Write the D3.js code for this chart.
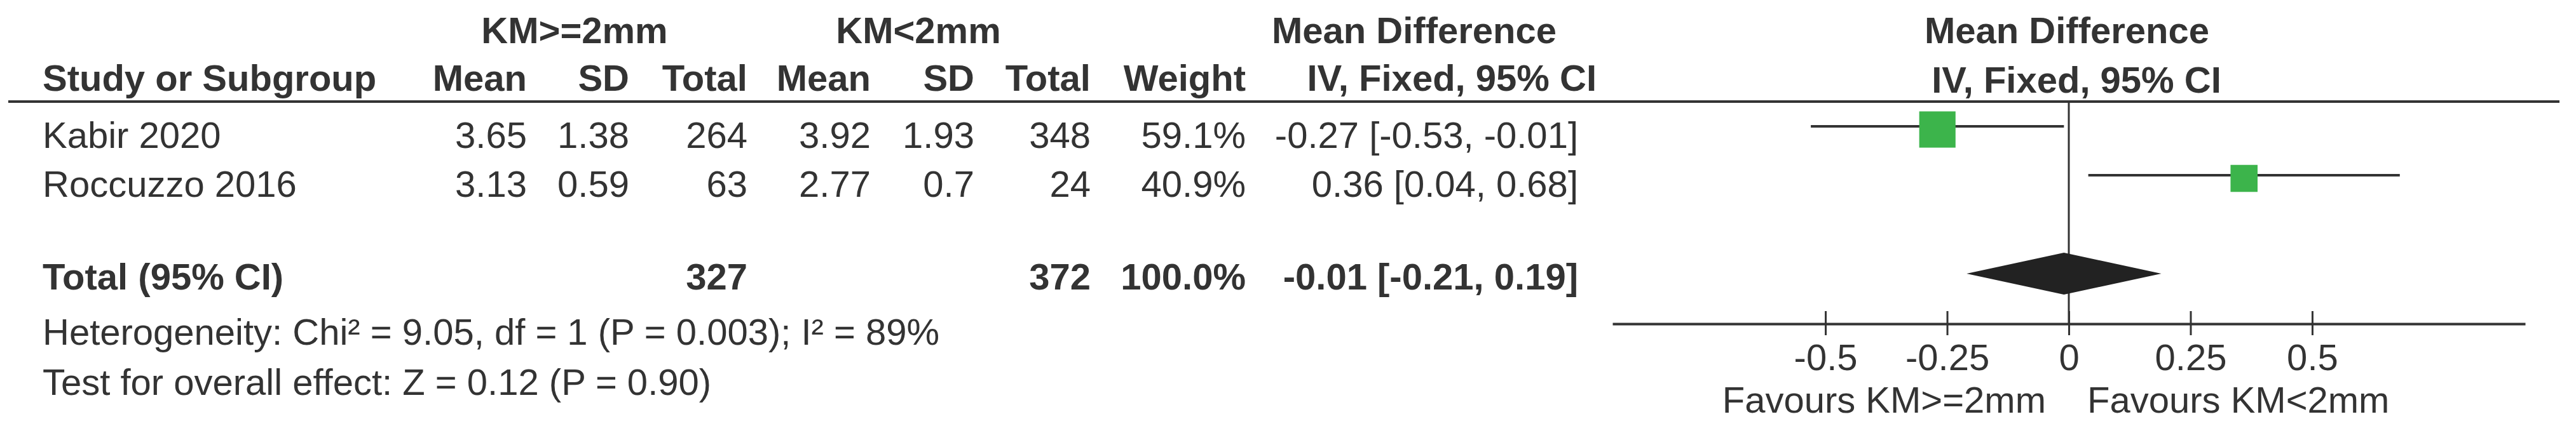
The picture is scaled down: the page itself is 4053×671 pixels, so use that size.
<!DOCTYPE html>
<html>
<head>
<meta charset="utf-8">
<script src="https://cdn.jsdelivr.net/npm/d3@7"></script>
<style>
  body { margin: 0; background: #fff; }
  svg { display: block; font-family: "Liberation Sans", Arial, sans-serif; }
  text { fill: #333; }
</style>
</head>
<body>
<div id="vis"></div>
<script>
// study data
var studies = ["Kabir 2020", "Roccuzzo 2016"];
var mean1 = [3.65, 3.13];
var sd1 = [1.38, 0.59];
var n1 = [264, 63];
var mean2 = [3.92, 2.77];
var sd2 = [1.93, 0.7];
var n2 = [348, 24];
var weights = [59.1, 40.9];
var md = [-0.27, 0.36];
var mdLow = [-0.53, 0.04];
var mdHigh = [-0.01, 0.68];

// pooled result
var totalN1 = 327;
var totalN2 = 372;
var totalWeight = 100.0;
var totalMd = -0.01;
var totalLow = -0.21;
var totalHigh = 0.19;

var tickValues = [-0.5, -0.25, 0, 0.25, 0.5];
var heterogeneityText = "Heterogeneity: Chi² = 9.05, df = 1 (P = 0.003); I² = 89%";
var overallText = "Test for overall effect: Z = 0.12 (P = 0.90)";
var favoursLeft = "Favours KM>=2mm";
var favoursRight = "Favours KM<2mm";

var width = 4053, height = 671;
var fs = 58;
var ink = "#333";

var svg = d3.select("#vis").append("svg")
    .attr("width", width)
    .attr("height", height);

// scales
var x = d3.scaleLinear().domain([-0.9375, 0.9375]).range([2537, 3973]);
var rowY = d3.scaleLinear().domain([0, 1]).range([200, 277]);
var boxSize = d3.scalePow().exponent(0.8).domain([0, 100]).range([0, 87]);

// column right edges
var cols = { mean1: 829, sd1: 990, n1: 1176, mean2: 1370, sd2: 1533, n2: 1716, w: 1960, ci: 2483 };

function txt(t, xx, yy, anchor, bold) {
    return svg.append("text")
        .attr("x", xx).attr("y", yy)
        .attr("text-anchor", anchor || "start")
        .style("font-size", fs + "px")
        .style("font-weight", bold ? "bold" : "normal")
        .text(t);
}
function fmtCI(m, l, h) {
    return m.toFixed(2) + " [" + l.toFixed(2) + ", " + h.toFixed(2) + "]";
}

// header row 1
txt("KM>=2mm", 904, 68, "middle", true);
txt("KM<2mm", 1445, 68, "middle", true);
txt("Mean Difference", 2225, 68, "middle", true);
txt("Mean Difference", 3252, 68, "middle", true);

// header row 2
txt("Study or Subgroup", 67, 143, "start", true);
txt("Mean", cols.mean1, 143, "end", true);
txt("SD", cols.sd1, 143, "end", true);
txt("Total", cols.n1, 143, "end", true);
txt("Mean", cols.mean2, 143, "end", true);
txt("SD", cols.sd2, 143, "end", true);
txt("Total", cols.n2, 143, "end", true);
txt("Weight", cols.w, 143, "end", true);
txt("IV, Fixed, 95% CI", 2512, 143, "end", true);
txt("IV, Fixed, 95% CI", 3267, 146, "middle", true);

svg.append("line")
    .attr("x1", 13).attr("x2", 4027)
    .attr("y1", 160).attr("y2", 160)
    .attr("stroke", ink).attr("stroke-width", 4);

// study rows
studies.forEach(function(s, i) {
    var yb = rowY(i) + 33;
    txt(s, 67, yb);
    txt(String(mean1[i]), cols.mean1, yb, "end");
    txt(String(sd1[i]), cols.sd1, yb, "end");
    txt(String(n1[i]), cols.n1, yb, "end");
    txt(String(mean2[i]), cols.mean2, yb, "end");
    txt(String(sd2[i]), cols.sd2, yb, "end");
    txt(String(n2[i]), cols.n2, yb, "end");
    txt(weights[i].toFixed(1) + "%", cols.w, yb, "end");
    txt(fmtCI(md[i], mdLow[i], mdHigh[i]), cols.ci, yb, "end");
});

// total row
var ty = rowY(3);
txt("Total (95% CI)", 67, ty + 25, "start", true);
txt(String(totalN1), cols.n1, ty + 25, "end", true);
txt(String(totalN2), cols.n2, ty + 25, "end", true);
txt(totalWeight.toFixed(1) + "%", cols.w, ty + 25, "end", true);
txt(fmtCI(totalMd, totalLow, totalHigh), cols.ci, ty + 25, "end", true);

txt(heterogeneityText, 67, 543);
txt(overallText, 67, 622);

// forest plot: zero line
svg.append("line")
    .attr("x1", x(0)).attr("x2", x(0))
    .attr("y1", 160).attr("y2", 510)
    .attr("stroke", ink).attr("stroke-width", 3);

// CI lines
svg.append("g").selectAll("line")
    .data(studies)
    .enter().append("line")
    .attr("x1", function(d, i) { return x(mdLow[i]); })
    .attr("x2", function(d, i) { return x(mdHigh[i]); })
    .attr("y1", function(d, i) { return rowY(i) - 1; })
    .attr("y2", function(d, i) { return rowY(i) - 1; })
    .attr("stroke", ink).attr("stroke-width", 4);

// weight boxes
svg.append("g").selectAll("rect")
    .data(studies)
    .enter().append("rect")
    .attr("x", function(d, i) { return x(md[i]) - boxSize(weights[i]) / 2; })
    .attr("y", function(d, i) { return rowY(i) + 4 - boxSize(weights[i]) / 2; })
    .attr("width", function(d, i) { return boxSize(weights[i]); })
    .attr("height", function(d, i) { return boxSize(weights[i]); })
    .attr("fill", "#3cb44b");

// pooled diamond
var dh = 33;
svg.append("path")
    .attr("d", "M" + x(totalLow) + "," + ty +
               "L" + x(totalMd) + "," + (ty - dh) +
               "L" + x(totalHigh) + "," + ty +
               "L" + x(totalMd) + "," + (ty + dh) + "Z")
    .attr("fill", "#222");

// axis
var axis = d3.axisBottom(x)
    .tickValues(tickValues)
    .tickFormat(function(d) { return String(d); })
    .tickSizeInner(18)
    .tickSizeOuter(0)
    .tickPadding(14);

var ag = svg.append("g")
    .attr("transform", "translate(0,510)")
    .call(axis);
ag.select(".domain").attr("stroke", ink).attr("stroke-width", 4);
ag.selectAll(".tick line").attr("stroke", ink).attr("stroke-width", 3).attr("y1", -20);
ag.selectAll(".tick text")
    .attr("fill", ink)
    .style("font-size", fs + "px")
    .style("font-family", "'Liberation Sans', Arial, sans-serif");

txt(favoursLeft, x(0) - 36, 650, "end");
txt(favoursRight, x(0) + 29, 650, "start");
</script>
</body>
</html>
